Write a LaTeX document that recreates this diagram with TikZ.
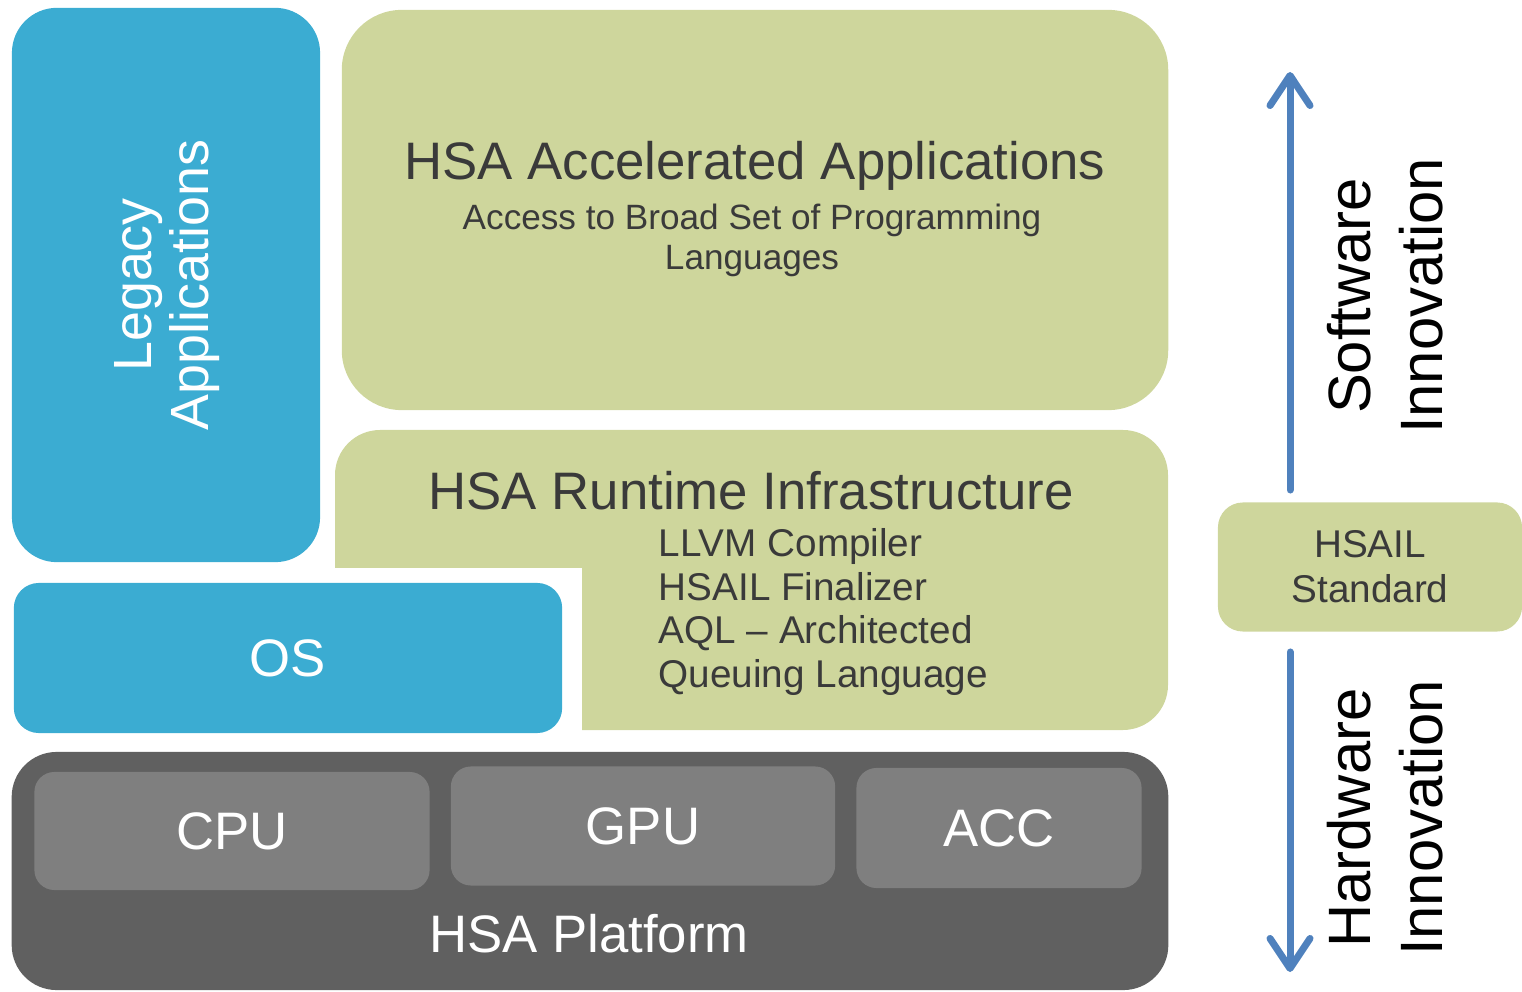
\documentclass[tikz,border=0pt]{standalone}
\usepackage{fontspec}
\setmainfont{Liberation Sans}
\usepackage{tikz}
\usetikzlibrary{arrows.meta}
\usetikzlibrary{positioning}

\definecolor{hsablue}{HTML}{3BACD2}
\definecolor{hsagreen}{HTML}{CED69C}
\definecolor{platgray}{HTML}{606060}
\definecolor{unitgray}{HTML}{7F7F7F}
\definecolor{arrowblue}{HTML}{4F81BD}
\definecolor{darktext}{HTML}{3A3A3A}

\tikzset{
  layer/.style={draw=none,inner sep=0pt,align=center},
  bluebox/.style={layer,fill=hsablue,text=white},
  greenbox/.style={layer,fill=hsagreen,text=darktext},
  unitbox/.style={layer,fill=unitgray,text=white,rounded corners=0.2cm,
    font=\fontsize{15}{18}\selectfont},
  innov/.style={rotate=90,align=center,text=black,
    font=\fontsize{17}{20.5}\selectfont},
  updown/.style={arrowblue,line width=2pt,line cap=round,
    -{Straight Barb[length=0.3cm,width=0.4cm,round]}}
}

\begin{document}
\begin{tikzpicture}[x=0.01cm,y=-0.01cm]
\useasboundingbox (0,0) rectangle (1522,992);

% application layers
\node[bluebox,rounded corners=0.45cm,minimum width=3.08cm,minimum height=5.54cm]
  (legacy) at (166,285) {};
\node[rotate=90,align=center,text=white,font=\fontsize{15.3}{16.2}\selectfont]
  (legacytext) at (167,285) {Legacy\\Applications};
\node[greenbox,rounded corners=0.6cm,minimum width=8.26cm,minimum height=4cm]
  (accel) at (755,210) {};
\node[text=darktext,font=\fontsize{15}{18}\selectfont] (acceltitle) at (755,166)
  {HSA Accelerated Applications};
\node[text=darktext,align=center,font=\fontsize{10}{11.4}\selectfont]
  (accelsub) at (752,240) {Access to Broad Set of Programming\\Languages};

% runtime layer (L-shaped)
\fill[hsagreen] (582,568) -- (335,568) [rounded corners=0.45cm] -- (335,430)
  -- (1168,430) -- (1168,730) [sharp corners] -- (582,730) -- cycle;
\node[text=darktext,font=\fontsize{15}{18}\selectfont] (runtime) at (751,491)
  {HSA Runtime Infrastructure};
\node[text=darktext,align=left,anchor=west,inner sep=0pt,
  font=\fontsize{11}{12.5}\selectfont] (runtimelist) at (658,612)
  {LLVM Compiler\\HSAIL Finalizer\\AQL -- Architected\\Queuing Language};

\node[bluebox,rounded corners=0.25cm,minimum width=5.48cm,minimum height=1.5cm,
  font=\fontsize{15}{18}\selectfont] (os) at (288,658) {OS};

% platform
\node[layer,fill=platgray,rounded corners=0.45cm,minimum width=11.56cm,
  minimum height=2.38cm] (platform) at (590,871) {};
\node[unitbox,minimum width=3.95cm,minimum height=1.18cm] (cpu) at (232,831) {CPU};
\node[unitbox,minimum width=3.84cm,minimum height=1.19cm] (gpu) at (643,826) {GPU};
\node[unitbox,minimum width=2.85cm,minimum height=1.2cm] (acc) at (999,828) {ACC};
\node[text=white,font=\fontsize{15}{18}\selectfont] (platformtext) at (589,934)
  {HSA Platform};

% standard and innovation arrows
\node[greenbox,rounded corners=0.25cm,minimum width=3.04cm,minimum height=1.29cm,
  text=darktext,font=\fontsize{11}{12.8}\selectfont] (hsail) at (1370,567)
  {HSAIL\\Standard};
\coordinate (swbot) at (1290,490);
\coordinate (swtop) at (1290,72);
\coordinate (hwtop) at (1290,652);
\coordinate (hwbot) at (1290,972);
\draw[updown] (swbot) -- (swtop);
\draw[updown] (hwtop) -- (hwbot);
\node[innov] (software) at (1385,296) {Software\\Innovation};
\node[innov] (hardware) at (1385,818) {Hardware\\Innovation};
\end{tikzpicture}
\end{document}
